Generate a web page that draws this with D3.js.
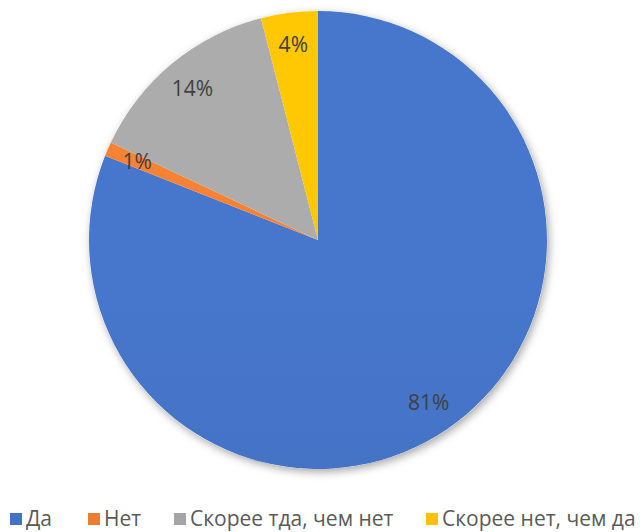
<!DOCTYPE html>
<html>
<head>
<meta charset="utf-8">
<script src="https://cdn.jsdelivr.net/npm/d3@7"></script>
<style>
  body { margin: 0; background: #fff; }
  svg { display: block; }
</style>
</head>
<body>
<script>
const categories = ["Да", "Нет", "Скорее тда, чем нет", "Скорее нет, чем да"];
const values = [81, 1, 14, 4];
const labels = ["81%", "1%", "14%", "4%"];
const colors = ["#4472C4", "#ED7D31", "#A5A5A5", "#FFC000"];

const width = 640, height = 532;
const cx = 318, cy = 240, radius = 229;

const svg = d3.select("body").append("svg")
  .attr("width", width)
  .attr("height", height);

const defs = svg.append("defs");

// soft shadow around the pie
const shadow = defs.append("filter").attr("id", "shadow")
  .attr("x", "-10%").attr("y", "-10%").attr("width", "120%").attr("height", "120%");
shadow.append("feDropShadow")
  .attr("dx", 2).attr("dy", 3).attr("stdDeviation", 4)
  .attr("flood-color", "#000").attr("flood-opacity", 0.35);

// top-to-bottom gradient for each slice
colors.forEach((c, i) => {
  const g = defs.append("linearGradient")
    .attr("id", "grad" + i)
    .attr("gradientUnits", "userSpaceOnUse")
    .attr("x1", 0).attr("y1", cy - radius)
    .attr("x2", 0).attr("y2", cy + radius);
  g.append("stop").attr("offset", "0%").attr("stop-color", d3.color(c).brighter(0.12));
  g.append("stop").attr("offset", "100%").attr("stop-color", d3.color(c).darker(0.08));
});

const pie = d3.pie().sort(null).value(d => d);
const arcs = pie(values);

const arc = d3.arc().innerRadius(0).outerRadius(radius);
const labelArc = d3.arc().innerRadius(197).outerRadius(197);

const g = svg.append("g").attr("transform", `translate(${cx},${cy})`);

g.append("circle")
  .attr("r", radius)
  .attr("fill", "#fff")
  .attr("filter", "url(#shadow)");

g.selectAll("path.slice")
  .data(arcs)
  .enter()
  .append("path")
  .attr("class", "slice")
  .attr("d", arc)
  .attr("fill", (d, i) => `url(#grad${i})`);

g.selectAll("text.lbl")
  .data(arcs)
  .enter()
  .append("text")
  .attr("class", "lbl")
  .attr("transform", d => {
    const [x, y] = labelArc.centroid(d);
    return `translate(${x},${y})`;
  })
  .attr("text-anchor", "middle")
  .attr("dy", "0.35em")
  .style("font-family", "'Open Sans', 'Liberation Sans', sans-serif")
  .style("font-size", "21px")
  .attr("fill", "#404040")
  .text((d, i) => labels[i]);

// legend
const legendX = [10, 88, 174, 426];
const legend = svg.append("g").attr("transform", "translate(0,519)");
const items = legend.selectAll("g")
  .data(categories)
  .enter()
  .append("g")
  .attr("transform", (d, i) => `translate(${legendX[i]},0)`);

items.append("rect")
  .attr("x", 0).attr("y", -6)
  .attr("width", 12).attr("height", 12)
  .attr("fill", (d, i) => colors[i]);

items.append("text")
  .attr("x", 16)
  .attr("dy", "0.35em")
  .style("font-family", "'Open Sans', 'Liberation Sans', sans-serif")
  .style("font-size", "21px")
  .attr("fill", "#595959")
  .text(d => d);
</script>
</body>
</html>
